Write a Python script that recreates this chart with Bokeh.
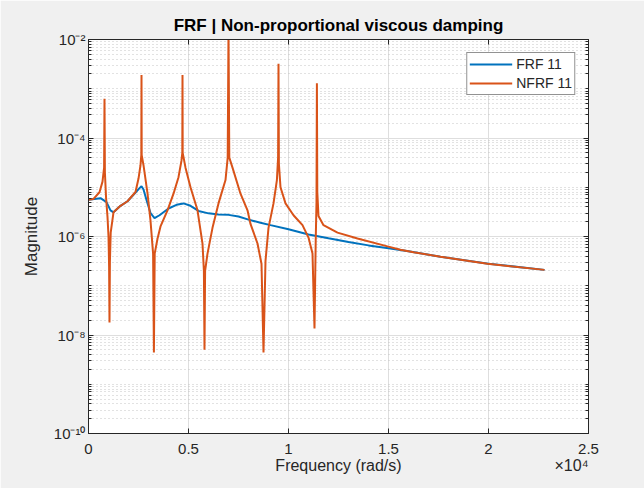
from bokeh.plotting import figure
from bokeh.models import (LogAxis, LinearAxis, FixedTicker, Legend, LegendItem,
                          Range1d, CustomJSTickFormatter, ColumnDataSource)
from bokeh.embed import file_html
from bokeh.resources import INLINE

# ---------------- data ----------------
freq_frf = [0, 300, 600, 900, 1100, 1250, 1600, 1950, 2350, 2550, 2650, 2750,
            2900, 3100, 3300, 3550, 4000, 4400, 4750, 5100, 5500, 6000, 6500,
            7000, 7500, 8000, 8600, 9100, 10000, 11000, 12000, 13000, 14000,
            15000, 16000, 17600, 20000, 22800]
mag_frf = [5.6e-6, 5.8e-6, 6.0e-6, 5.0e-6, 3.4e-6, 3.1e-6, 4.2e-6, 5.2e-6,
           7.8e-6, 9.6e-6, 1.05e-5, 9.0e-6, 5.5e-6, 3.0e-6, 2.35e-6, 2.7e-6,
           3.7e-6, 4.4e-6, 4.7e-6, 4.2e-6, 3.3e-6, 2.95e-6, 2.8e-6, 2.75e-6,
           2.55e-6, 2.2e-6, 1.9e-6, 1.7e-6, 1.4e-6, 1.1e-6, 9.2e-7, 7.7e-7,
           6.6e-7, 5.8e-7, 5.0e-7, 3.9e-7, 2.8e-7, 2.1e-7]

freq_nfrf = [0, 250, 550, 700, 780, 800, 820, 880, 950, 1000, 1030, 1050, 1070,
             1110, 1250, 1600, 1950, 2350, 2500, 2600, 2640, 2650, 2660, 2750,
             2950, 3100, 3230, 3270, 3310, 3450, 3600, 3950, 4250, 4500, 4650,
             4690, 4700, 4710, 4850, 5100, 5450, 5700, 5770, 5800, 5830, 5950,
             6200, 6500, 6850, 6960, 7000, 7040, 7200, 7600, 7950, 8100, 8450,
             8650, 8750, 8850, 9000, 9250, 9420, 9480, 9500, 9520, 9600, 9850,
             10250, 10700, 11000, 11200, 11300, 11360, 11400, 11420, 11440,
             11500, 11750, 12450, 13450, 14950, 15600, 16250, 17600, 19950, 22800]
mag_nfrf = [5.6e-6, 5.8e-6, 7.9e-6, 1.3e-5, 2.5e-5, 6.3e-4, 2.0e-5, 6.0e-6,
            2.5e-6, 1.0e-6, 2.5e-7, 1.8e-8, 3.0e-7, 1.2e-6, 3.1e-6, 4.2e-6,
            5.2e-6, 8.0e-6, 1.5e-5, 2.8e-5, 4.5e-5, 1.9e-3, 4.5e-5, 2.8e-5,
            7.5e-6, 2.1e-6, 4.5e-7, 4.4e-9, 4.5e-7, 9.0e-7, 1.6e-6, 3.4e-6,
            7.4e-6, 1.6e-5, 3.5e-5, 5.0e-5, 1.9e-3, 5.0e-5, 2.5e-5, 1.0e-5,
            3.4e-6, 7.2e-7, 2.0e-7, 5.0e-9, 2.0e-7, 4.5e-7, 1.5e-6, 4.7e-6,
            1.4e-5, 4.0e-5, 1.5e-2, 4.0e-5, 2.5e-5, 7.4e-6, 3.4e-6, 1.8e-6,
            7.2e-7, 2.8e-7, 4.4e-9, 3.2e-7, 1.5e-6, 4.7e-6, 1.4e-5, 4.0e-5,
            3.2e-3, 3.0e-5, 1.0e-5, 4.7e-6, 2.7e-6, 1.7e-6, 9.5e-7, 4.5e-7,
            1.35e-8, 8.0e-7, 5.0e-6, 1.3e-3, 8.0e-6, 2.6e-6, 1.7e-6, 1.2e-6,
            9.1e-7, 6.3e-7, 5.4e-7, 4.8e-7, 3.9e-7, 2.8e-7, 2.1e-7]

x_ticks = [0, 5000, 10000, 15000, 20000, 25000]
x_tick_labels = ["0", "0.5", "1", "1.5", "2", "2.5"]
y_ticks = [1e-10, 1e-8, 1e-6, 1e-4, 1e-2]
series_labels = ["FRF 11", "NFRF 11"]
title_text = "FRF | Non-proportional viscous damping"
x_label = "Frequency (rad/s)"
x_multiplier = "\u00d710\u2074"
y_label = "Magnitude"

# ---------------- styling ----------------
FONT = "Liberation Sans"
AX = "#262626"
BLUE = "#0072BD"
ORANGE = "#D95319"

y_minor = [k * 10.0 ** n for n in range(-10, -2) for k in range(2, 10)] + \
          [10.0 ** n for n in (-9, -7, -5, -3)]

p = figure(width=644, height=488, y_axis_type="log",
           x_range=Range1d(0, 25000), y_range=Range1d(1e-10, 1e-2),
           output_backend="svg", toolbar_location=None,
           min_border_left=88, min_border_right=56,
           min_border_top=39, min_border_bottom=55)
p.border_fill_color = "#f0f0f0"
p.background_fill_color = "white"
p.outline_line_color = AX
p.outline_line_width = 1

p.title.text = title_text
p.title.align = "center"
p.title.text_font = FONT
p.title.text_font_size = "17px"
p.title.text_font_style = "bold"
p.title.text_color = "black"
p.title.standoff = 10

src_frf = ColumnDataSource(dict(x=freq_frf, y=mag_frf))
src_nfrf = ColumnDataSource(dict(x=freq_nfrf, y=mag_nfrf))
r1 = p.line("x", "y", source=src_frf, line_color=BLUE, line_width=2)
r2 = p.line("x", "y", source=src_nfrf, line_color=ORANGE, line_width=2)

xt = FixedTicker(ticks=x_ticks, minor_ticks=[])
yt = FixedTicker(ticks=y_ticks, minor_ticks=y_minor)

ylab_fmt = CustomJSTickFormatter(code="""
const e = Math.round(Math.log10(tick));
const sup = {'-':'\u207b','0':'\u2070','1':'\u00b9','2':'\u00b2','3':'\u00b3','4':'\u2074',
             '5':'\u2075','6':'\u2076','7':'\u2077','8':'\u2078','9':'\u2079'};
return '10' + String(e).split('').map(c => sup[c]).join('');
""")

def style_axis(ax):
    ax.axis_line_color = AX
    ax.major_tick_line_color = AX
    ax.minor_tick_line_color = AX
    ax.major_tick_in = 5
    ax.major_tick_out = 0
    ax.minor_tick_in = 3
    ax.minor_tick_out = 0
    ax.major_label_text_font = FONT
    ax.major_label_text_font_size = "15px"
    ax.major_label_text_color = AX
    ax.axis_label_text_font = FONT
    ax.axis_label_text_font_size = "17px"
    ax.axis_label_text_font_style = "normal"
    ax.axis_label_text_color = AX

xa = p.xaxis[0]
xa.ticker = xt
xa.major_label_overrides = {t: s for t, s in zip(x_ticks, x_tick_labels)}
style_axis(xa)
xa.major_label_standoff = 10

# second row under the x axis: axis title (centred) and the x10^4 multiplier
row2 = LinearAxis(ticker=FixedTicker(ticks=[12500, 24150], minor_ticks=[]),
                  major_label_overrides={12500: x_label, 24150: x_multiplier})
style_axis(row2)
row2.axis_line_color = None
row2.major_tick_line_color = None
row2.minor_tick_line_color = None
row2.major_label_text_font_size = "16px"
row2.major_label_standoff = 0
p.add_layout(row2, "below")

ya = p.yaxis[0]
ya.ticker = yt
ya.formatter = ylab_fmt
ya.axis_label = y_label
style_axis(ya)
ya.major_label_standoff = 3
ya.axis_label_standoff = 10

blank = CustomJSTickFormatter(code="return '';")
top = LinearAxis(ticker=xt, formatter=blank)
style_axis(top)
top.major_label_text_font_size = "0px"
top.major_label_standoff = 0
right = LogAxis(ticker=yt, formatter=blank)
style_axis(right)
right.major_label_text_font_size = "0px"
right.major_label_standoff = 0
p.add_layout(top, "above")
p.add_layout(right, "right")

p.xgrid.ticker = xt
p.xgrid.grid_line_color = "#dedede"
p.ygrid.ticker = yt
p.ygrid.grid_line_color = "#dedede"
p.ygrid.minor_grid_line_color = "#c4c4c4"
p.ygrid.minor_grid_line_dash = "1 3"

legend = Legend(items=[LegendItem(label=series_labels[0], renderers=[r1]),
                       LegendItem(label=series_labels[1], renderers=[r2])],
                location="top_right", margin=13, padding=2, spacing=1,
                glyph_width=43, glyph_height=18, label_height=18,
                label_standoff=4,
                label_text_font=FONT, label_text_font_size="14px",
                label_text_color=AX, border_line_color=AX, border_line_width=1,
                background_fill_color="white", background_fill_alpha=1)
p.add_layout(legend, "center")

open("out.html", "w").write(file_html(p, INLINE))
